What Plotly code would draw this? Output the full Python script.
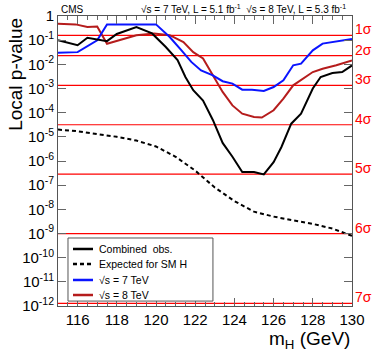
import numpy as np
import plotly.graph_objects as go

# ---------------- data ----------------
mass_obs = [115.0, 116.0, 116.5, 117.5, 118.0, 119.0, 119.8, 120.5, 121.1, 121.5, 121.9,
            122.4, 122.9, 123.4, 123.9, 124.4, 125.0, 125.5, 126.0, 126.4, 126.9, 127.4,
            128.0, 128.4, 129.0, 129.5, 130.0]
p_obs = [0.10, 0.062, 0.125, 0.091, 0.18, 0.35, 0.19, 0.052, 0.015, 3.0e-3, 8.5e-4,
         3.2e-4, 5.0e-5, 5.6e-6, 1.5e-6, 3.5e-7, 3.5e-7, 2.8e-7, 9.0e-7, 3.8e-6, 3.5e-5, 9.0e-5,
         1.0e-3, 3.0e-3, 4.4e-3, 4.8e-3, 9.0e-3]

mass_exp = [115, 116, 117, 118, 119, 120, 121, 122, 123, 124, 125, 126, 127, 128, 129, 130]
p_exp = [2.0e-5, 1.7e-5, 1.3e-5, 1.0e-5, 7.0e-6, 4.0e-6, 1.5e-6, 4.0e-7, 8.0e-8, 2.2e-8,
         8.0e-9, 5.0e-9, 3.5e-9, 2.5e-9, 1.6e-9, 8.0e-10]

mass_7tev = [115.0, 116.0, 117.0, 117.5, 120.0, 120.7, 121.3, 121.8, 122.3, 122.9, 123.4,
             123.9, 124.4, 124.9, 125.5, 126.0, 126.5, 127.0, 127.4, 128.0, 128.5, 129.0,
             129.8, 130.0]
p_7tev = [0.030, 0.032, 0.098, 0.45, 0.45, 0.135, 0.038, 0.0126, 5.6e-3, 3.5e-3, 2.0e-3,
          1.6e-3, 8.9e-4, 8.9e-4, 7.9e-4, 1.15e-3, 2.2e-3, 9.1e-3, 0.0107, 0.038, 0.072, 0.083,
          0.105, 0.112]

mass_8tev = [115.0, 115.9, 116.5, 117.0, 117.5, 118.1, 119.0, 119.9, 120.7, 121.4, 121.9,
             122.4, 122.9, 123.4, 123.9, 124.4, 125.0, 125.4, 126.0, 126.5, 127.0, 127.5,
             128.0, 128.5, 129.2, 130.0]
p_8tev = [0.48, 0.45, 0.35, 0.37, 0.071, 0.098, 0.16, 0.19, 0.16, 0.083, 0.032,
          0.0174, 3.5e-3, 7.2e-4, 2.0e-4, 9.1e-5, 6.6e-5, 6.3e-5, 1.26e-4, 3.8e-4, 1.35e-3, 2.6e-3,
          4.8e-3, 6.6e-3, 9.1e-3, 0.0145]

sigma_labels = ["1σ", "2σ", "3σ", "4σ", "5σ", "6σ", "7σ"]
sigma_pvalues = [0.1587, 0.02275, 1.35e-3, 3.167e-5, 2.867e-7, 9.866e-10, 1.28e-12]

x_range = [115, 130]
x_ticks = [116, 118, 120, 122, 124, 126, 128, 130]
y_exponents = [0, -1, -2, -3, -4, -5, -6, -7, -8, -9, -10, -11, -12]
y_ticklabels = ["1"] + ["10<sup>%d</sup>" % e for e in y_exponents[1:]]

legend_names = ["Combined  obs.", "Expected for SM H", "√s = 7 TeV", "√s = 8 TeV"]

# ---------------- styles ----------------
FONT = "Liberation Sans, Arial, sans-serif"
styles = [dict(color="black", width=2, dash="solid"),
          dict(color="black", width=2, dash="4px,3px"),
          dict(color="#0a14ff", width=2, dash="solid"),
          dict(color="#b51c1c", width=2, dash="solid")]

fig = go.Figure()

for p in sigma_pvalues:
    fig.add_trace(go.Scatter(x=x_range, y=[p, p], mode="lines",
                             line=dict(color="#ff0000", width=1.2),
                             showlegend=False, hoverinfo="skip"))

fig.add_trace(go.Scatter(x=mass_exp, y=p_exp, mode="lines", name=legend_names[1],
                         line=styles[1], showlegend=False))
fig.add_trace(go.Scatter(x=mass_8tev, y=p_8tev, mode="lines", name=legend_names[3],
                         line=styles[3], showlegend=False))
fig.add_trace(go.Scatter(x=mass_7tev, y=p_7tev, mode="lines", name=legend_names[2],
                         line=styles[2], showlegend=False))
fig.add_trace(go.Scatter(x=mass_obs, y=p_obs, mode="lines", name=legend_names[0],
                         line=styles[0], showlegend=False))

annotations = []
shapes = []
for lab, p in zip(sigma_labels, sigma_pvalues):
    annotations.append(dict(x=1.0, xref="paper", y=np.log10(p), yref="y", text=lab,
                            showarrow=False, xanchor="left", yanchor="middle", xshift=1,
                            yshift=6, font=dict(family=FONT, size=14, color="#ff0000")))
annotations.append(dict(x=0.004, xref="paper", y=1.0, yref="paper", text="CMS",
                        showarrow=False, xanchor="left", yanchor="bottom", yshift=-1,
                        font=dict(family=FONT, size=10, color="black")))
annotations.append(dict(x=0.985, xref="paper", y=1.0, yref="paper",
                        text="√s = 7 TeV, L = 5.1 fb<sup>-1</sup>  √s = 8 TeV, L = 5.3 fb<sup>-1</sup>",
                        showarrow=False, xanchor="right", yanchor="bottom", yshift=-1,
                        font=dict(family=FONT, size=10, color="black")))
annotations.append(dict(x=-0.145, xref="paper", y=1.0, yref="paper", text="Local p-value",
                        textangle=-90, showarrow=False, xanchor="center", yanchor="top",
                        font=dict(family=FONT, size=19, color="black")))
annotations.append(dict(x=1.0, xref="paper", y=-0.117, yref="paper", text="m<sub>H</sub> (GeV)",
                        showarrow=False, xanchor="right", yanchor="middle",
                        font=dict(family=FONT, size=19, color="black")))

# legend box (drawn manually to match the compact ROOT legend)
shapes.append(dict(type="rect", xref="paper", yref="paper", x0=0.034, x1=0.527,
                   y0=0.017, y1=0.2345, line=dict(color="#555555", width=1),
                   fillcolor="white", layer="above"))
legend_rows = [0.1966, 0.1448, 0.0897, 0.0379]
for name, st, yr in zip(legend_names, styles, legend_rows):
    shapes.append(dict(type="line", xref="paper", yref="paper", x0=0.051, x1=0.119,
                       y0=yr, y1=yr, layer="above",
                       line=dict(color=st["color"], width=st["width"] + 0.5, dash=st["dash"])))
    annotations.append(dict(x=0.133, xref="paper", y=yr, yref="paper", text=name,
                            showarrow=False, xanchor="left", yanchor="middle",
                            font=dict(family=FONT, size=10.5, color="black")))

fig.update_layout(
    width=374, height=355,
    margin=dict(l=58, r=22, t=16, b=49, autoexpand=False),
    paper_bgcolor="white", plot_bgcolor="white",
    font=dict(family=FONT, size=15, color="black"),
    annotations=annotations, shapes=shapes, showlegend=False,
    xaxis=dict(range=x_range, tickvals=x_ticks, ticks="inside", ticklen=8,
               tickcolor="#666666", showline=True, linecolor="#555555", linewidth=1,
               mirror="allticks", showgrid=False, zeroline=False, automargin=False,
               tickfont=dict(family=FONT, size=15),
               minor=dict(dtick=0.5, ticks="inside", ticklen=4, tickcolor="#666666",
                          showgrid=False)),
    yaxis=dict(type="log", range=[-12, 0],
               tickvals=[10.0 ** e for e in y_exponents], ticktext=y_ticklabels,
               ticks="inside", ticklen=8, tickcolor="#666666", automargin=False,
               showline=True, linecolor="#555555", linewidth=1, mirror="allticks",
               showgrid=False, zeroline=False, tickfont=dict(family=FONT, size=15),
               minor=dict(ticks="inside", ticklen=4, tickcolor="#888888", showgrid=False)),
)

fig.write_html("out.html", config={"displayModeBar": False},
               post_script="document.body.style.margin='0';document.body.style.overflow='hidden';")
